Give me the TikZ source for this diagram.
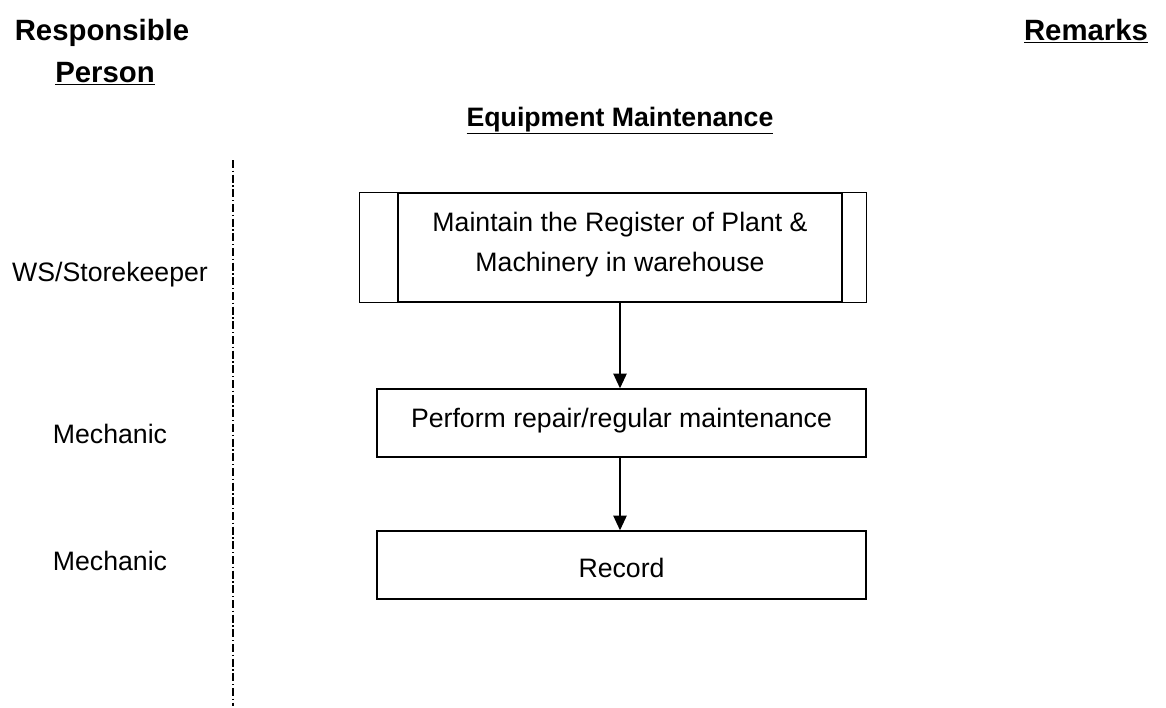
\documentclass[tikz,border=0pt]{standalone}
\usepackage{fontspec}
\setmainfont{Liberation Sans}
\usetikzlibrary{arrows.meta}

% move box text up or down without changing the box
\newcommand{\movetext}[2]{\raisebox{#1}[0pt][0pt]{#2}}

\begin{document}
\begin{tikzpicture}[x=0.75pt, y=-0.75pt,
    box/.style = {draw, line width=1.1pt, rectangle, inner sep=0pt,
                  font=\fontsize{20}{30}\selectfont},
    label/.style = {anchor=base, font=\fontsize{20}{24}\selectfont},
    head/.style = {anchor=base, font=\fontsize{22}{26}\selectfont\bfseries},
    flow/.style = {line width=1.1pt, -{Triangle[width=10pt,length=11pt]}}]
\useasboundingbox (0,0) rectangle (1166,707);
% column headings
\node[head] (resp) at (102,40) {Responsible};
\node[head] (pers) at (105,82) {\underline{Person}};
\node[head] (rem) at (1086,40) {\underline{Remarks}};
\node[head, font=\fontsize{20}{24}\selectfont\bfseries] (title) at (620,126)
    {\underline{Equipment Maintenance}};
% divider
\coordinate (top) at (233,160);
\coordinate (bot) at (233,706);
\draw[line width=0.8pt, dash pattern=on 6pt off 2pt on 1pt off 2pt] (top) -- (bot);
% people
\node[label] (who1) at (110,281) {WS/Storekeeper};
\node[label] (who2) at (110,443) {Mechanic};
\node[label] (who3) at (110,570) {Mechanic};
% steps
\node[box, minimum width=333pt, minimum height=81.75pt] (reg) at (620,247.5)
    {\movetext{12.2pt}{\begin{tabular}[t]{@{}c@{}}Maintain the Register of Plant \&\\
     Machinery in warehouse\end{tabular}}};
\draw[line width=1.1pt] (reg.north west) -- ++(-28.5pt,0) |- (reg.south west);
\draw[line width=1.1pt] (reg.north east) -- ++(18pt,0) |- (reg.south east);
\node[box, minimum width=366.75pt, minimum height=51pt] (rep) at (621.5,423)
    {\movetext{-3pt}{Perform repair/regular maintenance}};
\node[box, minimum width=366.75pt, minimum height=51pt] (rec) at (621.5,565)
    {\movetext{-9pt}{Record}};
\draw[flow] (reg.south) -- (reg.south |- rep.north);
\draw[flow] (reg.south |- rep.south) -- (reg.south |- rec.north);
\end{tikzpicture}
\end{document}
